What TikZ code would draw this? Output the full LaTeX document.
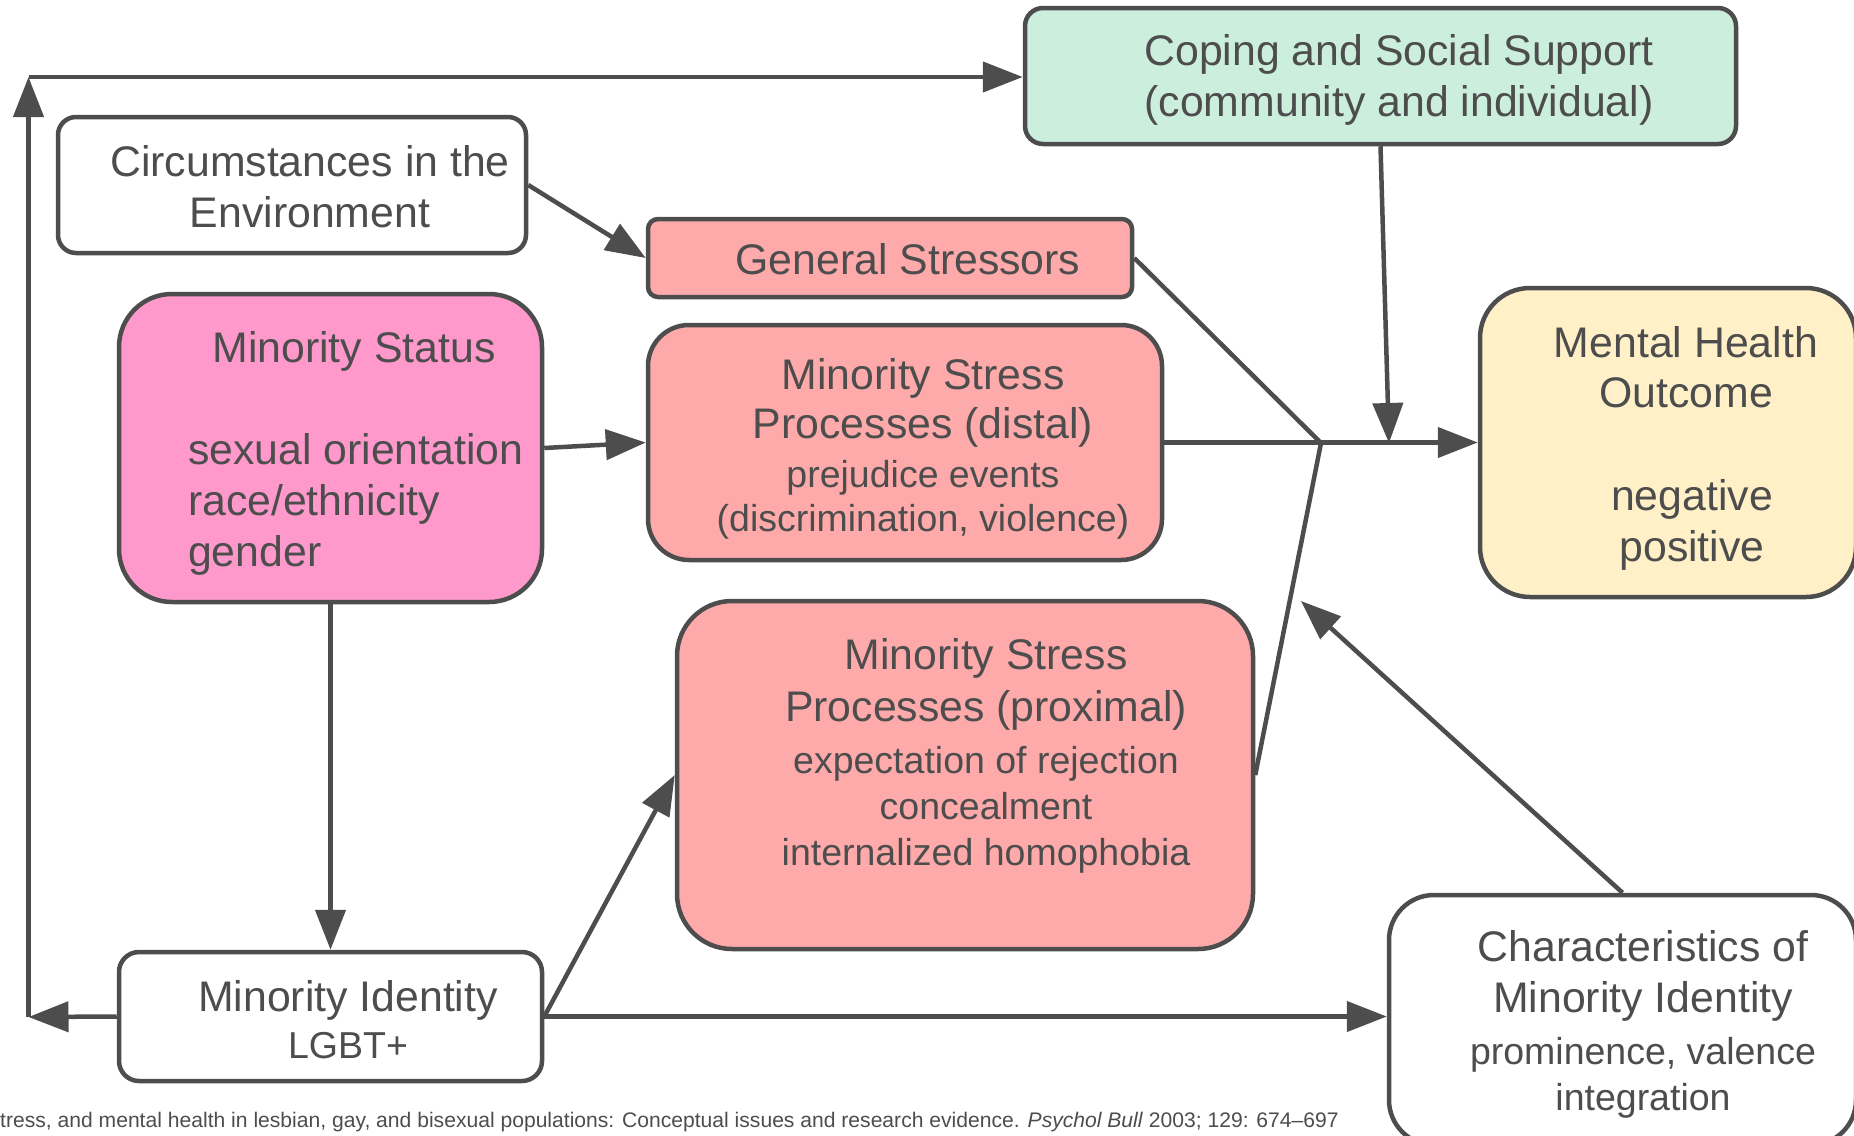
\documentclass[tikz,border=0pt]{standalone}
\usepackage{fontspec}
\setmainfont{Liberation Sans}
\usetikzlibrary{arrows.meta}

\definecolor{linegray}{RGB}{77,77,77}
\definecolor{copegreen}{RGB}{204,238,221}
\definecolor{statuspink}{RGB}{255,153,204}
\definecolor{stressred}{RGB}{255,170,170}
\definecolor{outcomeyellow}{RGB}{255,240,200}
\newcommand{\smalltext}{\fontsize{37.5}{44}\selectfont}

\begin{document}
\begin{tikzpicture}[x=1pt,y=-1pt,
    box/.style={draw=linegray,line width=4.5pt,rounded corners=#1,inner sep=0pt},
    box/.default=18pt,
    big/.style={text=linegray,align=center,font=\fontsize{42.8}{51}\selectfont},
    link/.style={draw=linegray,line width=4.5pt,-{Triangle[length=40pt,width=30pt]}},
    plain/.style={draw=linegray,line width=4.5pt}]
                  \useasboundingbox (0,0) rectangle (1854,1135);
                  % coping box top right
                  \node [box,fill=copegreen,minimum width=711pt,minimum height=136pt] (coping) at (1380.5,76) {};
                  \node [big] (copingtext) at (1399,80) {Coping and Social Support\\(community and individual)};
                  % circumstances box
                  \node [box,fill=white,minimum width=468pt,minimum height=136pt] (circ) at (292,185) {};
                  \node [big] (circtext) at (310,187) {Circumstances in the\\Environment};
                  % general stressors
                  \node [box=10pt,fill=stressred,minimum width=484pt,minimum height=78pt] (general) at (890,258) {};
                  \node [big] (generaltext) at (908,259) {General Stressors};
                  % minority status
                  \node [box=53pt,fill=statuspink,minimum width=423pt,minimum height=308pt] (status) at (330.5,448) {};
                  \node [big] (statustitle) at (354,351) {Minority Status};
                  \node [big,align=left,anchor=west] (statuslist) at (184.5,504.5) {sexual orientation\\race/ethnicity\\gender};
                  % distal stress processes
                  \node [box=41pt,fill=stressred,minimum width=514pt,minimum height=235pt] (distal) at (905,442.5) {};
                  \node [big] (distaltext) at (923,449) {Minority Stress\\[-2pt]Processes (distal)\\[-2pt]{\smalltext prejudice events}\\[-7pt]{\smalltext (discrimination, violence)}};
                  % mental health outcome
                  \node [box=50pt,fill=outcomeyellow,minimum width=376pt,minimum height=309pt] (outcome) at (1668,442.5) {};
                  \node [big] (outcometitle) at (1686,367) {Mental Health\\[-1pt]Outcome};
                  \node [big] (outcomelist) at (1692,524.5) {negative\\positive};
                  % proximal stress processes
                  \node [box=55pt,fill=stressred,minimum width=576pt,minimum height=348pt] (proximal) at (965,775) {};
                  \node [big] (proximaltext) at (986,755.5) {Minority Stress\\[1pt]Processes (proximal)\\[1pt]{\smalltext expectation of rejection}\\[-5pt]{\smalltext concealment}\\[-5pt]{\smalltext internalized homophobia}};
                  % minority identity
                  \node [box=20pt,fill=white,minimum width=423pt,minimum height=129pt] (identity) at (330.5,1016.5) {};
                  \node [big] (identitytext) at (348,1020) {Minority Identity\\[-4pt]{\smalltext LGBT+}};
                  % characteristics of minority identity
                  \node [box=45pt,fill=white,minimum width=467pt,minimum height=250pt] (chars) at (1622.5,1020) {};
                  \node [big] (charstext) at (1643,1024) {Characteristics of\\Minority Identity\\[1pt]{\smalltext prominence, valence}\\[-5pt]{\smalltext integration}};
                  % reference line
                  \node [anchor=base west,inner sep=0pt,text=linegray,font=\fontsize{21.1}{25}\selectfont] (cite) at (0,1127) {tress, and mental health in lesbian, gay, and bisexual populations: Conceptual issues and research evidence. \textit{Psychol Bull} 2003; 129: 674–697};
                  % free ends
                  \coordinate (lowleft) at (28.5,1017);
                  \coordinate (topleft) at (28.5,77);
                  \coordinate (joint) at (1321,443);
                  \coordinate (copingdrop) at (1389,443);
                  \coordinate (charstip) at (1301,601);
                  % arrows on the left
                  \draw [link] (identity.west) -- (lowleft);
                  \draw [link] (lowleft) -- (topleft);
                  \draw [link] (topleft) -- (topleft -| coping.west);
                  \draw [link] (circ.east) -- (general.west);
                  \draw [link] (status.east) -- (distal.west);
                  \draw [link] (status.south) -- (identity.north);
                  \draw [link] (identity.east) -- (proximal.west);
                  \draw [link] (identity.east) -- (identity.east -| chars.west);
                  % lines into the joint
                  \draw [plain] (general.east) -- (joint);
                  \draw [plain] (proximal.east) -- (joint);
                  \draw [link] (distal.east) -- (outcome.west);
                  \draw [link] (coping.south) -- (copingdrop);
                  \draw [link] (chars.north) -- (charstip);
\end{tikzpicture}
\end{document}
